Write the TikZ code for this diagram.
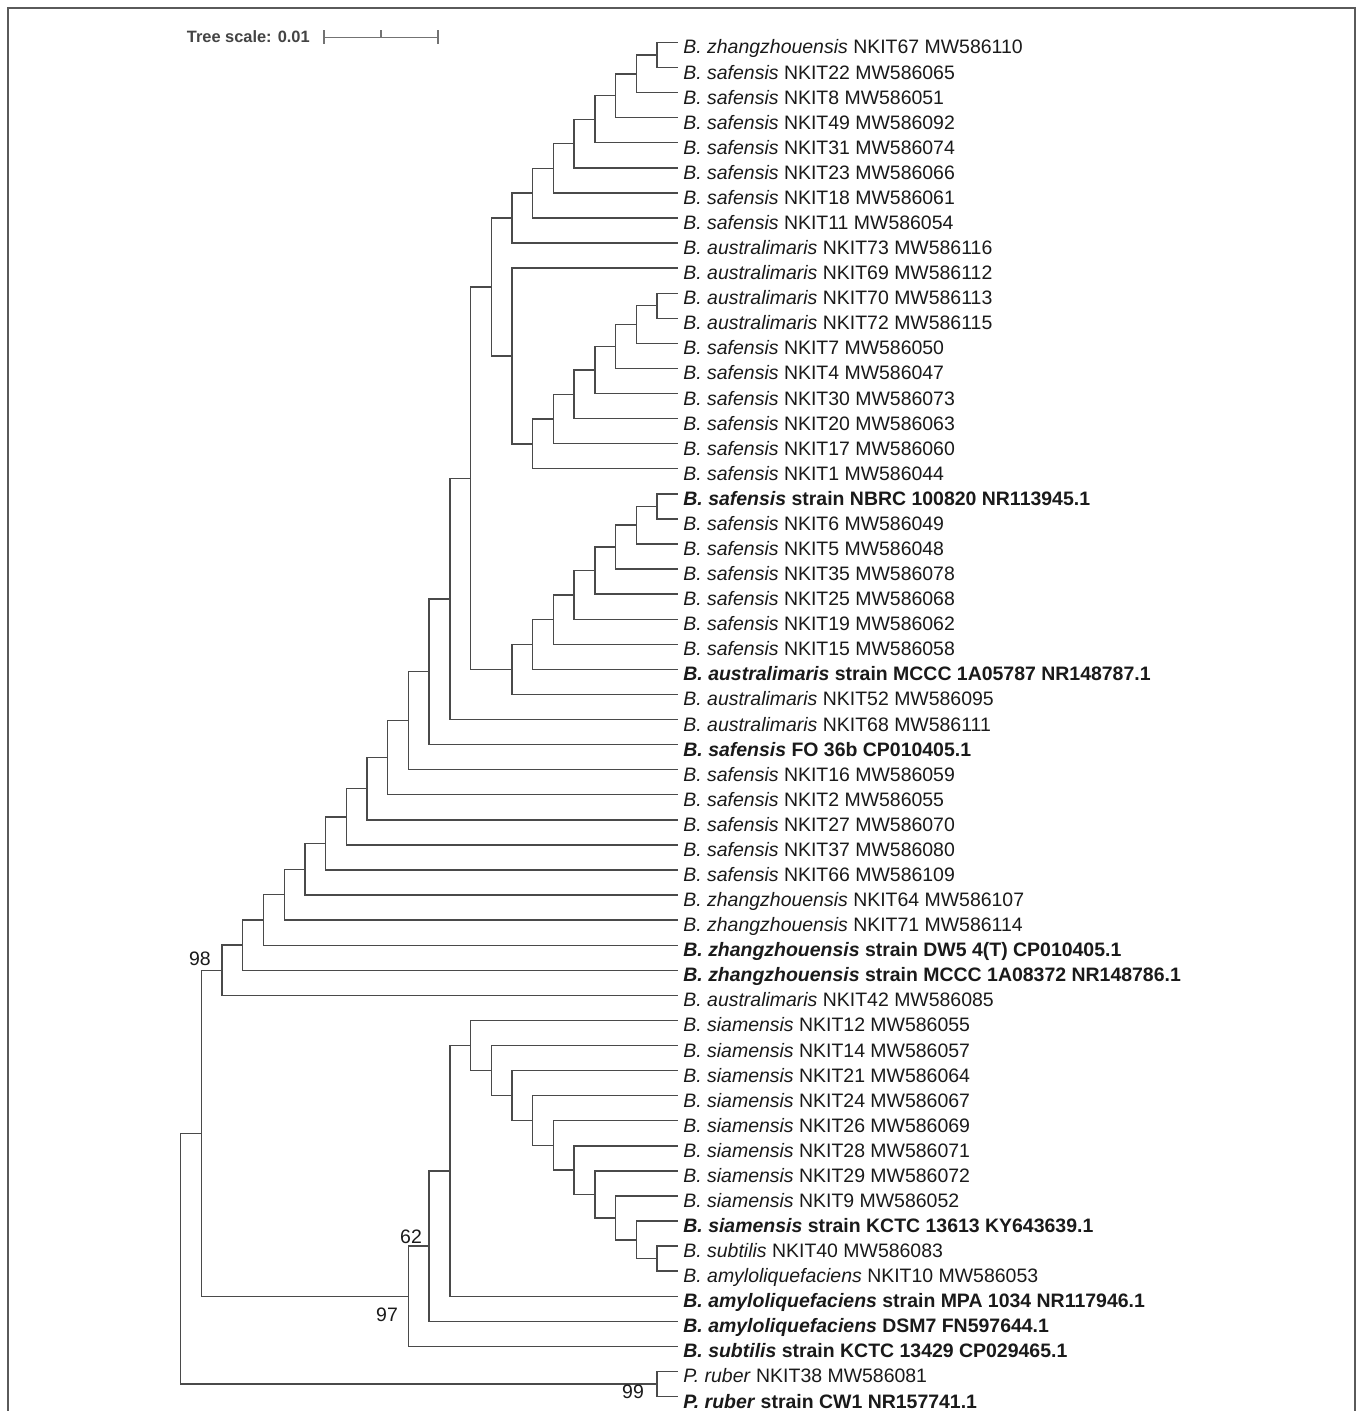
\documentclass[tikz,border=0pt]{standalone}
\usepackage{fontspec}
\setmainfont{Liberation Sans}
\definecolor{branch}{HTML}{4A4A4A}
\definecolor{txt}{HTML}{1A1A1A}
\definecolor{scl}{HTML}{444444}
\definecolor{frm}{HTML}{5A5A5A}
\newcommand{\spn}[1]{\textit{#1}}
\begin{document}
\begin{tikzpicture}[x=0.5pt,y=-0.5pt,
  declare function={ly(\i)=42.5+25.075*(\i-1); hx(\h)=677.7-20.71*\h;},
  br/.style={draw=branch,line width=0.7pt,line join=miter},
  lab/.style={anchor=base west,inner sep=0pt,text=txt,font=\fontsize{9.73}{11}\selectfont},
  boot/.style={inner sep=0pt,text=txt,font=\fontsize{9.73}{11}\selectfont},
  frame/.style={draw=frm,line width=1pt}]
\useasboundingbox[fill=white] (0,0) rectangle (1360,1411);
\draw[frame] (8,1411) -- (8,8) -- (1355,8) -- (1355,1411);
% scale bar
\node[anchor=base west,inner sep=0pt,text=scl,font=\bfseries\fontsize{8.2}{10}\selectfont] (scaletext) at (186.5,42.7) {Tree scale: 0.01};
\coordinate (sbL) at (324,37.3);
\coordinate (sbR) at (438,37.3);
\coordinate (sbM) at (381,37.3);
\draw[draw=gray!90!black,line width=0.6pt] (sbL) -- (sbR);
\draw[draw=gray!90!black,line width=0.6pt] ([yshift=3.4]sbL) -- ([yshift=-3.4]sbL);
\draw[draw=gray!90!black,line width=0.6pt] ([yshift=3.4]sbR) -- ([yshift=-3.4]sbR);
\draw[draw=gray!90!black,line width=0.6pt] (sbM) -- ([yshift=3.4]sbM);
% leaf tips
\foreach \i in {1,...,55} {\coordinate (t\i) at ({hx(0)},{ly(\i)});}
% internal nodes
\coordinate (iA1) at ({hx(1)},{ly(1.5)});
\coordinate (iA2) at ({hx(2)},{ly(2.25)});
\coordinate (iA3) at ({hx(3)},{ly(3.125)});
\coordinate (iA4) at ({hx(4)},{ly(4.0625)});
\coordinate (iA5) at ({hx(5)},{ly(5.03125)});
\coordinate (iA6) at ({hx(6)},{ly(6.015625)});
\coordinate (iA7) at ({hx(7)},{ly(7.0078)});
\coordinate (iA8) at ({hx(8)},{ly(8.0039)});
\coordinate (iB1) at ({hx(1)},{ly(11.5)});
\coordinate (iB2) at ({hx(2)},{ly(12.25)});
\coordinate (iB3) at ({hx(3)},{ly(13.125)});
\coordinate (iB4) at ({hx(4)},{ly(14.0625)});
\coordinate (iB5) at ({hx(5)},{ly(15.03125)});
\coordinate (iB6) at ({hx(6)},{ly(16.0156)});
\coordinate (iB7) at ({hx(7)},{ly(17.0078)});
\coordinate (iB8) at ({hx(8)},{ly(13.5039)});
\coordinate (iC) at ({hx(9)},{ly(10.7539)});
\coordinate (iE1) at ({hx(1)},{ly(19.5)});
\coordinate (iE2) at ({hx(2)},{ly(20.25)});
\coordinate (iE3) at ({hx(3)},{ly(21.125)});
\coordinate (iE4) at ({hx(4)},{ly(22.0625)});
\coordinate (iE5) at ({hx(5)},{ly(23.03125)});
\coordinate (iE6) at ({hx(6)},{ly(24.0156)});
\coordinate (iE7) at ({hx(7)},{ly(25.0078)});
\coordinate (iE8) at ({hx(8)},{ly(26.0039)});
\coordinate (iD) at ({hx(10)},{ly(18.3789)});
\coordinate (iF) at ({hx(11)},{ly(23.189)});
\coordinate (iG) at ({hx(12)},{ly(26.095)});
\coordinate (iH) at ({hx(13)},{ly(28.047)});
\coordinate (iI) at ({hx(14)},{ly(29.524)});
\coordinate (iJ) at ({hx(15)},{ly(30.762)});
\coordinate (iK) at ({hx(16)},{ly(31.881)});
\coordinate (iL) at ({hx(17)},{ly(32.940)});
\coordinate (iM) at ({hx(18)},{ly(33.970)});
\coordinate (iN) at ({hx(19)},{ly(34.985)});
\coordinate (iO) at ({hx(20)},{ly(35.993)});
\coordinate (iP) at ({hx(21)},{ly(36.996)});
\coordinate (iQ) at ({hx(22)},{ly(37.998)});
\coordinate (iZ6) at ({hx(1)},{ly(49.5)});
\coordinate (iZ5) at ({hx(2)},{ly(48.75)});
\coordinate (iZ4) at ({hx(3)},{ly(47.875)});
\coordinate (iZ3) at ({hx(4)},{ly(46.9375)});
\coordinate (iZ2) at ({hx(5)},{ly(45.96875)});
\coordinate (iZ1) at ({hx(6)},{ly(44.984)});
\coordinate (iY) at ({hx(7)},{ly(43.992)});
\coordinate (iX) at ({hx(8)},{ly(42.996)});
\coordinate (iW) at ({hx(9)},{ly(41.998)});
\coordinate (iV) at ({hx(10)},{ly(40.999)});
\coordinate (iU) at ({hx(11)},{ly(45.9995)});
\coordinate (iT) at ({hx(12)},{ly(48.9998)});
\coordinate (iS) at ({hx(13)},{ly(50.9999)});
\coordinate (iR) at ({hx(23)},{ly(44.499)});
\coordinate (iPR) at ({hx(1)},{ly(54.5)});
\coordinate (iRoot) at ({hx(24)},{ly(49.4995)});
% branches
\foreach \p/\c in {iA1/t1,iA1/t2,iA2/iA1,iA2/t3,iA3/iA2,iA3/t4,iA4/iA3,iA4/t5,iA5/iA4,iA5/t6,iA6/iA5,iA6/t7,iA7/iA6,iA7/t8,iA8/iA7,iA8/t9,
  iB1/t11,iB1/t12,iB2/iB1,iB2/t13,iB3/iB2,iB3/t14,iB4/iB3,iB4/t15,iB5/iB4,iB5/t16,iB6/iB5,iB6/t17,iB7/iB6,iB7/t18,iB8/t10,iB8/iB7,
  iC/iA8,iC/iB8,
  iE1/t19,iE1/t20,iE2/iE1,iE2/t21,iE3/iE2,iE3/t22,iE4/iE3,iE4/t23,iE5/iE4,iE5/t24,iE6/iE5,iE6/t25,iE7/iE6,iE7/t26,iE8/iE7,iE8/t27,
  iD/iC,iD/iE8,iF/iD,iF/t28,iG/iF,iG/t29,iH/iG,iH/t30,iI/iH,iI/t31,iJ/iI,iJ/t32,iK/iJ,iK/t33,iL/iK,iL/t34,iM/iL,iM/t35,iN/iM,iN/t36,iO/iN,iO/t37,iP/iO,iP/t38,iQ/iP,iQ/t39,
  iZ6/t49,iZ6/t50,iZ5/t48,iZ5/iZ6,iZ4/t47,iZ4/iZ5,iZ3/t46,iZ3/iZ4,iZ2/t45,iZ2/iZ3,iZ1/t44,iZ1/iZ2,iY/t43,iY/iZ1,iX/t42,iX/iY,iW/t41,iW/iX,iV/t40,iV/iW,
  iU/iV,iU/t51,iT/iU,iT/t52,iS/iT,iS/t53,
  iR/iQ,iR/iS,iPR/t54,iPR/t55,iRoot/iR,iRoot/iPR}
  {\draw[br] (\p) |- (\c);}
% bootstrap values
\node[boot] (b98) at (200,958.5) {98};
\node[boot] (b62) at (411,1237) {62};
\node[boot] (b97) at (387,1315) {97};
\node[boot] (b99) at (633,1392) {99};
% leaf labels
\node[lab] (n1) at (683,{ly(1)+11.5}) {\spn{B. zhangzhouensis} NKIT67 MW586110};
\node[lab] (n2) at (683,{ly(2)+11.5}) {\spn{B. safensis} NKIT22 MW586065};
\node[lab] (n3) at (683,{ly(3)+11.5}) {\spn{B. safensis} NKIT8 MW586051};
\node[lab] (n4) at (683,{ly(4)+11.5}) {\spn{B. safensis} NKIT49 MW586092};
\node[lab] (n5) at (683,{ly(5)+11.5}) {\spn{B. safensis} NKIT31 MW586074};
\node[lab] (n6) at (683,{ly(6)+11.5}) {\spn{B. safensis} NKIT23 MW586066};
\node[lab] (n7) at (683,{ly(7)+11.5}) {\spn{B. safensis} NKIT18 MW586061};
\node[lab] (n8) at (683,{ly(8)+11.5}) {\spn{B. safensis} NKIT11 MW586054};
\node[lab] (n9) at (683,{ly(9)+11.5}) {\spn{B. australimaris} NKIT73 MW586116};
\node[lab] (n10) at (683,{ly(10)+11.5}) {\spn{B. australimaris} NKIT69 MW586112};
\node[lab] (n11) at (683,{ly(11)+11.5}) {\spn{B. australimaris} NKIT70 MW586113};
\node[lab] (n12) at (683,{ly(12)+11.5}) {\spn{B. australimaris} NKIT72 MW586115};
\node[lab] (n13) at (683,{ly(13)+11.5}) {\spn{B. safensis} NKIT7 MW586050};
\node[lab] (n14) at (683,{ly(14)+11.5}) {\spn{B. safensis} NKIT4 MW586047};
\node[lab] (n15) at (683,{ly(15)+11.5}) {\spn{B. safensis} NKIT30 MW586073};
\node[lab] (n16) at (683,{ly(16)+11.5}) {\spn{B. safensis} NKIT20 MW586063};
\node[lab] (n17) at (683,{ly(17)+11.5}) {\spn{B. safensis} NKIT17 MW586060};
\node[lab] (n18) at (683,{ly(18)+11.5}) {\spn{B. safensis} NKIT1 MW586044};
\node[lab] (n19) at (683,{ly(19)+11.5}) {\textbf{\spn{B. safensis} strain NBRC 100820 NR113945.1}};
\node[lab] (n20) at (683,{ly(20)+11.5}) {\spn{B. safensis} NKIT6 MW586049};
\node[lab] (n21) at (683,{ly(21)+11.5}) {\spn{B. safensis} NKIT5 MW586048};
\node[lab] (n22) at (683,{ly(22)+11.5}) {\spn{B. safensis} NKIT35 MW586078};
\node[lab] (n23) at (683,{ly(23)+11.5}) {\spn{B. safensis} NKIT25 MW586068};
\node[lab] (n24) at (683,{ly(24)+11.5}) {\spn{B. safensis} NKIT19 MW586062};
\node[lab] (n25) at (683,{ly(25)+11.5}) {\spn{B. safensis} NKIT15 MW586058};
\node[lab] (n26) at (683,{ly(26)+11.5}) {\textbf{\spn{B. australimaris} strain MCCC 1A05787 NR148787.1}};
\node[lab] (n27) at (683,{ly(27)+11.5}) {\spn{B. australimaris} NKIT52 MW586095};
\node[lab] (n28) at (683,{ly(28)+11.5}) {\spn{B. australimaris} NKIT68 MW586111};
\node[lab] (n29) at (683,{ly(29)+11.5}) {\textbf{\spn{B. safensis} FO 36b CP010405.1}};
\node[lab] (n30) at (683,{ly(30)+11.5}) {\spn{B. safensis} NKIT16 MW586059};
\node[lab] (n31) at (683,{ly(31)+11.5}) {\spn{B. safensis} NKIT2 MW586055};
\node[lab] (n32) at (683,{ly(32)+11.5}) {\spn{B. safensis} NKIT27 MW586070};
\node[lab] (n33) at (683,{ly(33)+11.5}) {\spn{B. safensis} NKIT37 MW586080};
\node[lab] (n34) at (683,{ly(34)+11.5}) {\spn{B. safensis} NKIT66 MW586109};
\node[lab] (n35) at (683,{ly(35)+11.5}) {\spn{B. zhangzhouensis} NKIT64 MW586107};
\node[lab] (n36) at (683,{ly(36)+11.5}) {\spn{B. zhangzhouensis} NKIT71 MW586114};
\node[lab] (n37) at (683,{ly(37)+11.5}) {\textbf{\spn{B. zhangzhouensis} strain DW5 4(T) CP010405.1}};
\node[lab] (n38) at (683,{ly(38)+11.5}) {\textbf{\spn{B. zhangzhouensis} strain MCCC 1A08372 NR148786.1}};
\node[lab] (n39) at (683,{ly(39)+11.5}) {\spn{B. australimaris} NKIT42 MW586085};
\node[lab] (n40) at (683,{ly(40)+11.5}) {\spn{B. siamensis} NKIT12 MW586055};
\node[lab] (n41) at (683,{ly(41)+11.5}) {\spn{B. siamensis} NKIT14 MW586057};
\node[lab] (n42) at (683,{ly(42)+11.5}) {\spn{B. siamensis} NKIT21 MW586064};
\node[lab] (n43) at (683,{ly(43)+11.5}) {\spn{B. siamensis} NKIT24 MW586067};
\node[lab] (n44) at (683,{ly(44)+11.5}) {\spn{B. siamensis} NKIT26 MW586069};
\node[lab] (n45) at (683,{ly(45)+11.5}) {\spn{B. siamensis} NKIT28 MW586071};
\node[lab] (n46) at (683,{ly(46)+11.5}) {\spn{B. siamensis} NKIT29 MW586072};
\node[lab] (n47) at (683,{ly(47)+11.5}) {\spn{B. siamensis} NKIT9 MW586052};
\node[lab] (n48) at (683,{ly(48)+11.5}) {\textbf{\spn{B. siamensis} strain KCTC 13613 KY643639.1}};
\node[lab] (n49) at (683,{ly(49)+11.5}) {\spn{B. subtilis} NKIT40 MW586083};
\node[lab] (n50) at (683,{ly(50)+11.5}) {\spn{B. amyloliquefaciens} NKIT10 MW586053};
\node[lab] (n51) at (683,{ly(51)+11.5}) {\textbf{\spn{B. amyloliquefaciens} strain MPA 1034 NR117946.1}};
\node[lab] (n52) at (683,{ly(52)+11.5}) {\textbf{\spn{B. amyloliquefaciens} DSM7 FN597644.1}};
\node[lab] (n53) at (683,{ly(53)+11.5}) {\textbf{\spn{B. subtilis} strain KCTC 13429 CP029465.1}};
\node[lab] (n54) at (683,{ly(54)+11.5}) {\spn{P. ruber} NKIT38 MW586081};
\node[lab] (n55) at (683,{ly(55)+11.5}) {\textbf{\spn{P. ruber} strain CW1 NR157741.1}};
\end{tikzpicture}
\end{document}
